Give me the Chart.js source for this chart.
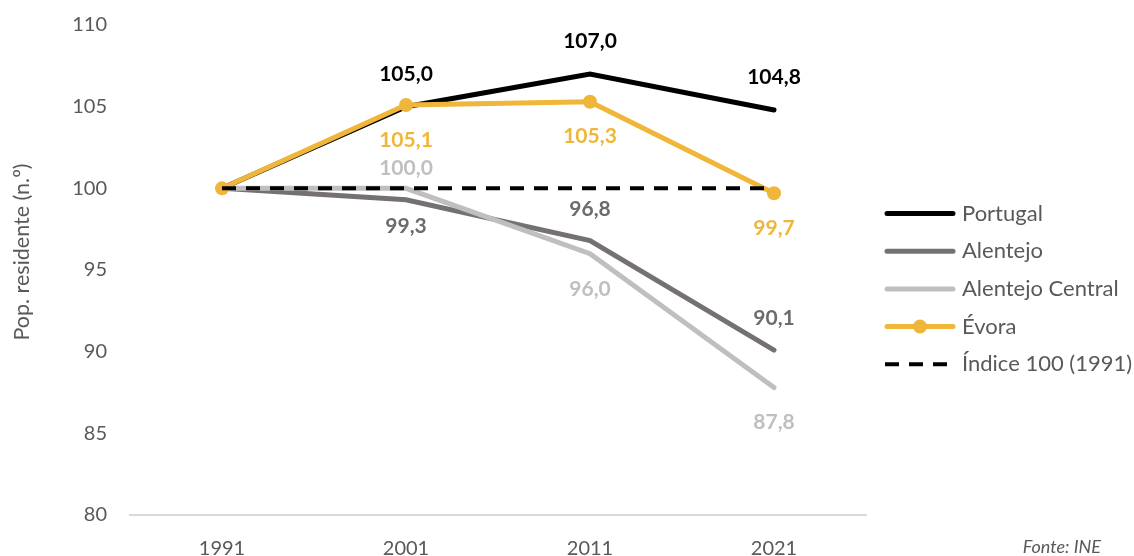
<!DOCTYPE html>
<html>
<head>
<meta charset="utf-8">
<script src="https://cdn.jsdelivr.net/npm/chart.js@4.4.1/dist/chart.umd.min.js"></script>
<style>
  html, body { margin: 0; padding: 0; background: #ffffff; }
  #wrap { width: 1134px; height: 556px; }
</style>
</head>
<body>
<div id="wrap"><canvas id="c" width="1134" height="556"></canvas></div>
<script>
// Índice da população residente (1991 = 100)
const years = ['1991', '2001', '2011', '2021'];
const portugal = [100, 105.0, 107.0, 104.8];
const alentejo = [100, 99.3, 96.8, 90.1];
const alentejoCentral = [100, 100.0, 96.0, 87.8];
const evora = [100, 105.1, 105.3, 99.7];
const indice100 = [100, 100, 100, 100];
const yTicks = [80, 85, 90, 95, 100, 105, 110];

const FONT = 'Lato, "Open Sans", sans-serif';
const TEXT_GREY = '#595959';

// Series styling; label offsets are vertical shifts (px) of each value label from its point
const series = [
  { name: 'Portugal', data: portugal, color: '#000000', labelColor: '#000000', width: 5, order: 4,
    labelOffsets: [null, -32, -33, -33] },
  { name: 'Alentejo', data: alentejo, color: '#767171', labelColor: '#6f6b6b', width: 5, order: 3,
    labelOffsets: [null, 26, -31, -32] },
  { name: 'Alentejo Central', data: alentejoCentral, color: '#BFBFBF', labelColor: '#BFBFBF', width: 5, order: 2,
    labelOffsets: [null, -20, 36, 35] },
  { name: 'Évora', data: evora, color: '#EFB639', labelColor: '#EFB639', width: 5, order: 1, marker: true,
    labelOffsets: [null, 35, 34, 35] },
  { name: 'Índice 100 (1991)', data: indice100, color: '#000000', width: 4, order: 0, dash: [14, 10] }
];

const datasets = series.map(s => ({
  label: s.name,
  data: s.data,
  borderColor: s.color,
  backgroundColor: s.color,
  borderWidth: s.width,
  borderDash: s.dash || [],
  borderCapStyle: s.dash ? 'butt' : 'round',
  borderJoinStyle: 'miter',
  pointRadius: s.marker ? 7 : 0,
  pointBorderWidth: 0,
  pointBackgroundColor: s.color,
  tension: 0,
  order: s.order,
  clip: false
}));

function fmt(v) { return v.toFixed(1).replace('.', ','); }

// Value labels placed above/below each point
const valueLabels = {
  id: 'valueLabels',
  afterDatasetsDraw(chart) {
    const ctx = chart.ctx;
    ctx.save();
    ctx.font = 'bold 21px ' + FONT;
    ctx.textAlign = 'center';
    ctx.textBaseline = 'middle';
    series.forEach((s, di) => {
      if (!s.labelOffsets) return;
      const meta = chart.getDatasetMeta(di);
      meta.data.forEach((pt, i) => {
        const off = s.labelOffsets[i];
        if (off === null || off === undefined) return;
        ctx.fillStyle = s.labelColor;
        ctx.fillText(fmt(s.data[i]), pt.x, pt.y + off);
      });
    });
    ctx.restore();
  }
};

// Legend, axis title and source note
const decorations = {
  id: 'decorations',
  afterDraw(chart) {
    const ctx = chart.ctx;
    ctx.save();

    // legend
    const x0 = 885, x1 = 955, tx = 962, y0 = 213.5, step = 37.7;
    series.forEach((s, i) => {
      const y = y0 + i * step;
      ctx.strokeStyle = s.color;
      ctx.lineWidth = s.width;
      ctx.setLineDash(s.dash || []);
      ctx.lineCap = s.dash ? 'butt' : 'round';
      ctx.beginPath();
      ctx.moveTo(s.dash ? x0 : x0 + 2, y);
      ctx.lineTo(s.dash ? x1 - 3 : x1 - 2, y);
      ctx.stroke();
      ctx.setLineDash([]);
      if (s.marker) {
        ctx.fillStyle = s.color;
        ctx.beginPath();
        ctx.arc((x0 + x1) / 2, y, 7, 0, Math.PI * 2);
        ctx.fill();
      }
      ctx.fillStyle = TEXT_GREY;
      ctx.font = '22px ' + FONT;
      ctx.textAlign = 'left';
      ctx.textBaseline = 'middle';
      ctx.fillText(s.name, tx, y);
    });

    // y axis title
    ctx.save();
    ctx.translate(22, 252);
    ctx.rotate(-Math.PI / 2);
    ctx.fillStyle = TEXT_GREY;
    ctx.font = '21.5px ' + FONT;
    ctx.textAlign = 'center';
    ctx.textBaseline = 'middle';
    ctx.fillText('Pop. residente (n.º)', 0, 0);
    ctx.restore();

    // source
    ctx.fillStyle = TEXT_GREY;
    ctx.font = 'italic 18px ' + FONT;
    ctx.textAlign = 'right';
    ctx.textBaseline = 'middle';
    ctx.fillText('Fonte: INE', 1101, 547);

    ctx.restore();
  }
};

new Chart(document.getElementById('c'), {
  type: 'line',
  data: { labels: years, datasets },
  options: {
    responsive: false,
    animation: false,
    events: [],
    layout: { padding: { left: 0, right: 268, top: 25, bottom: 0 } },
    plugins: {
      legend: { display: false },
      tooltip: { enabled: false }
    },
    scales: {
      x: {
        offset: true,
        grid: { display: false, drawTicks: false },
        border: { display: true, color: '#D9D9D9', width: 2 },
        ticks: { color: TEXT_GREY, font: { family: FONT, size: 20 }, padding: 22, maxRotation: 0 },
        afterFit(scale) { scale.height = 41; }
      },
      y: {
        min: yTicks[0],
        max: yTicks[yTicks.length - 1],
        grid: { display: false, drawTicks: false },
        border: { display: false },
        ticks: { color: TEXT_GREY, font: { family: FONT, size: 20 }, padding: 23 },
        afterBuildTicks(scale) { scale.ticks = yTicks.map(v => ({ value: v })); },
        afterFit(scale) {
          scale.width = 130;
          scale.paddingTop = 0;
          scale.paddingBottom = 0;
        }
      }
    }
  },
  plugins: [valueLabels, decorations]
});
</script>
</body>
</html>
